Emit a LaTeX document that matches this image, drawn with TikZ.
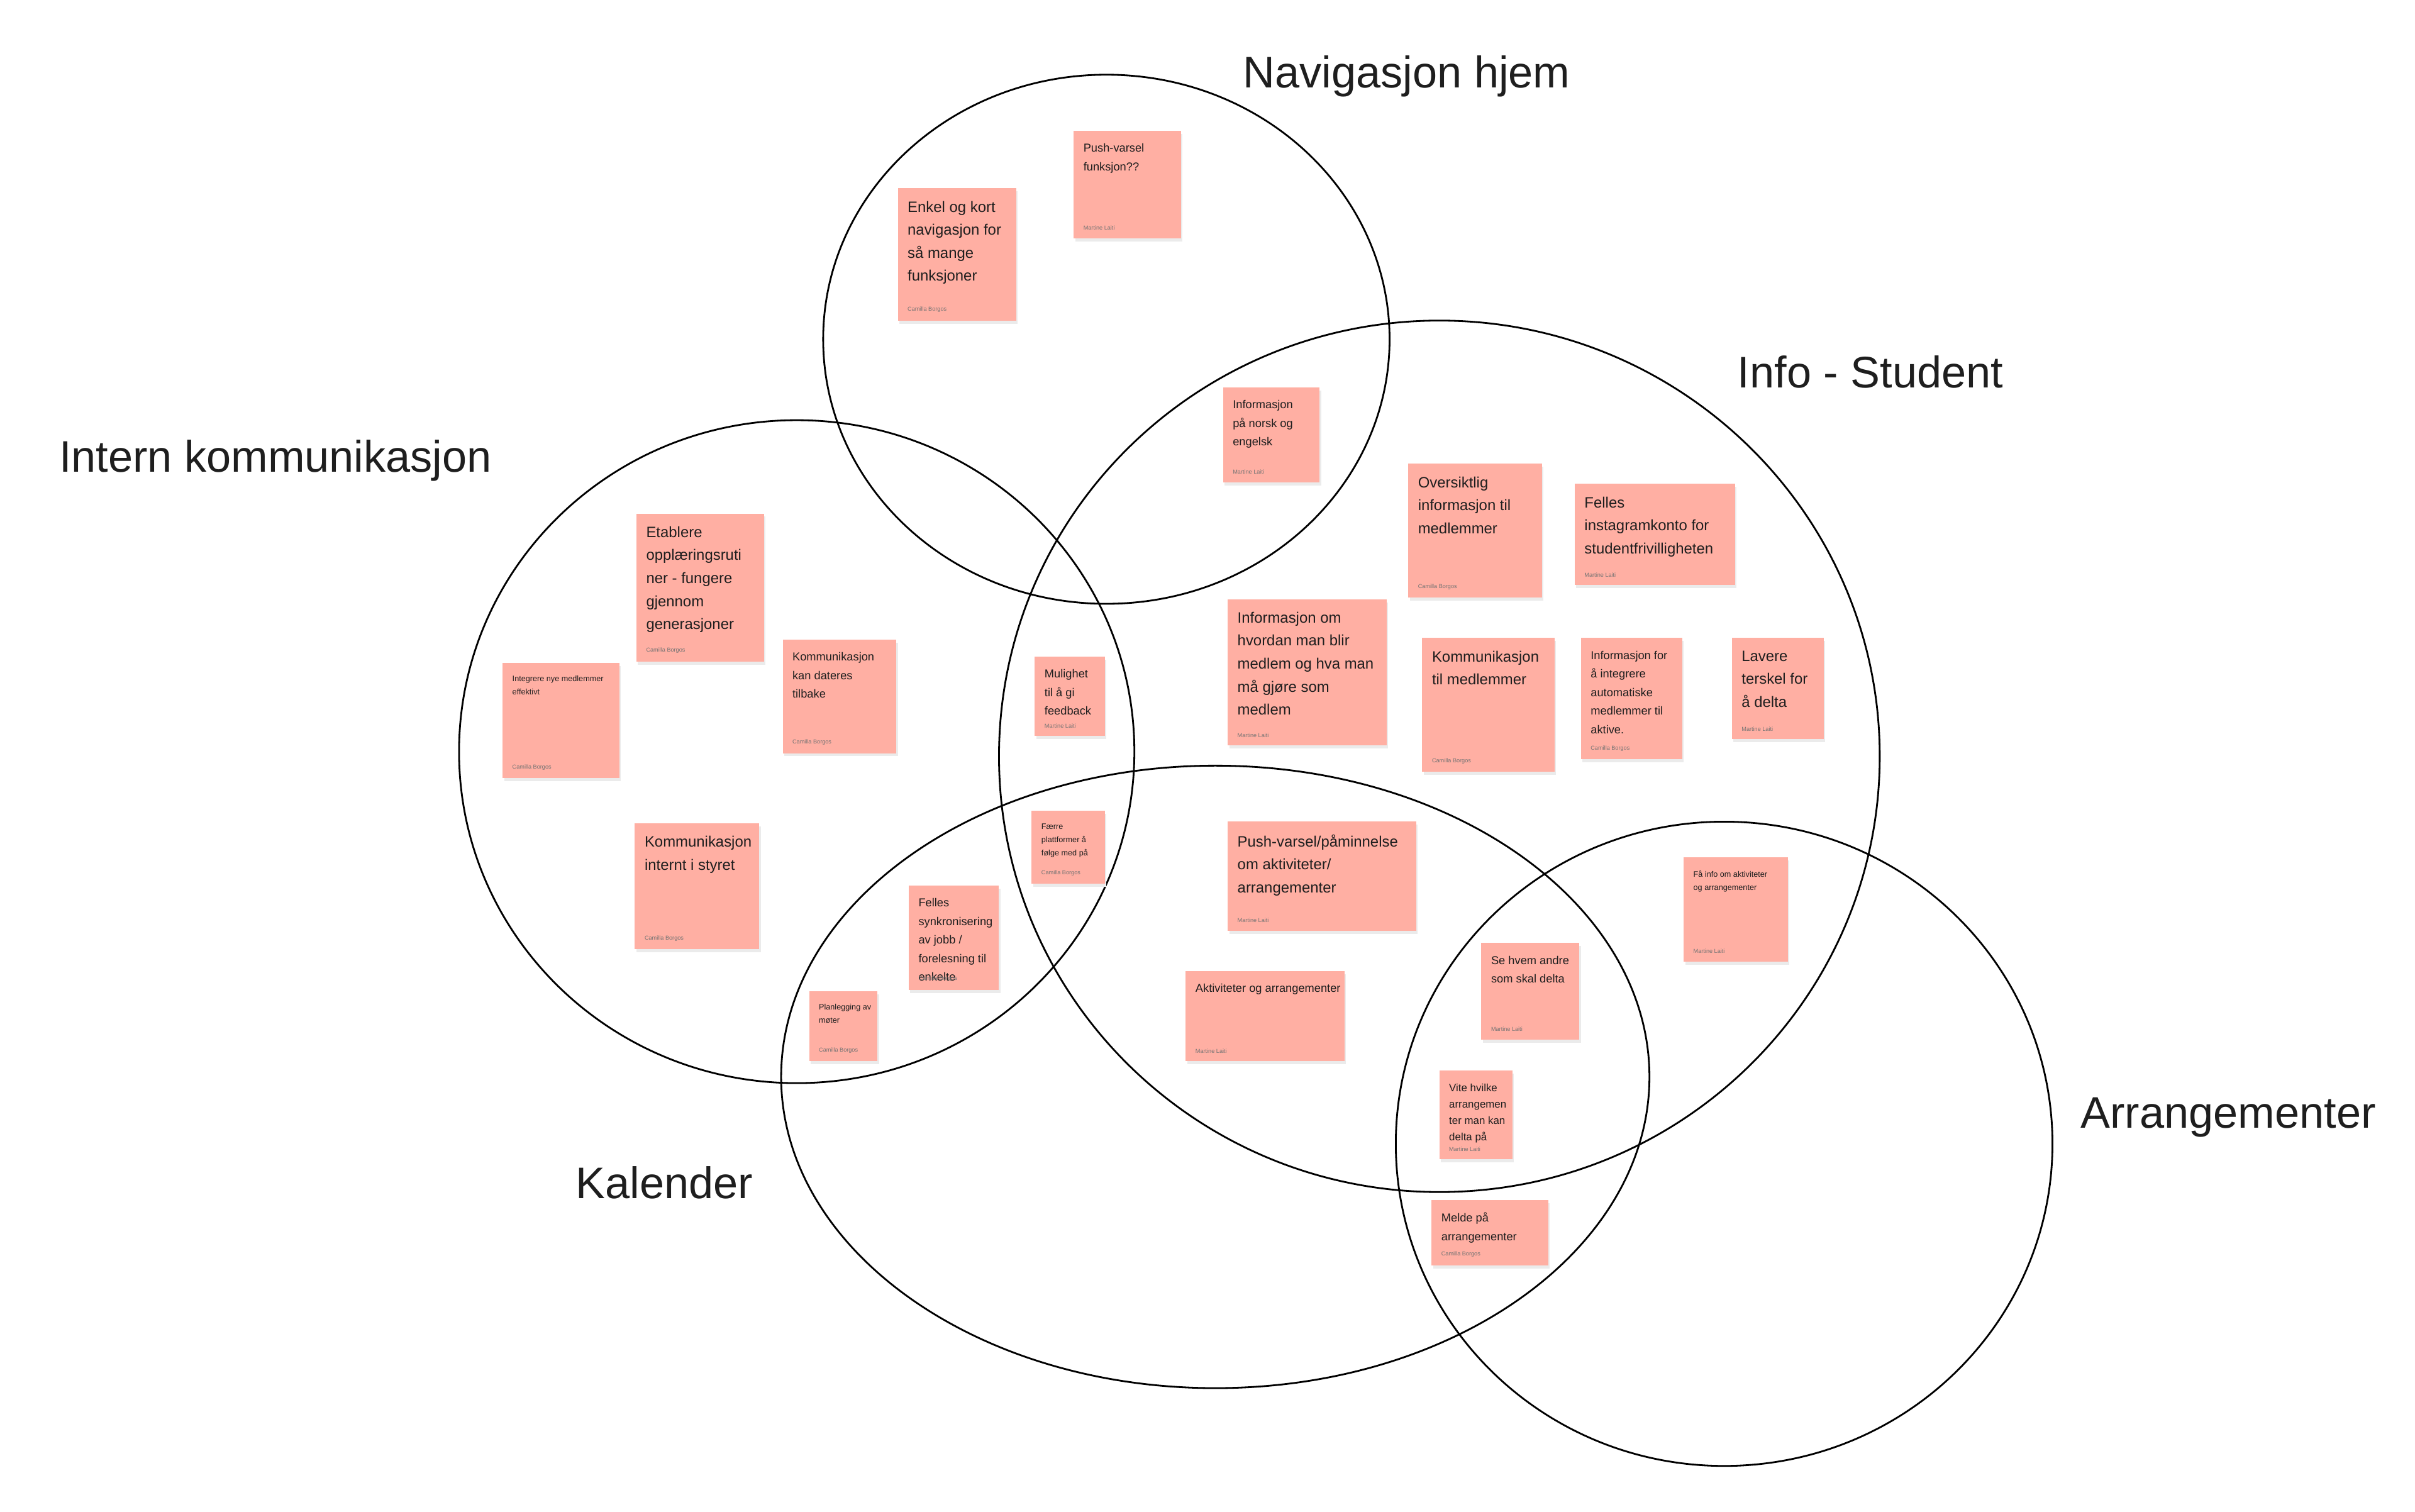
\documentclass[tikz,border=0pt]{standalone}
\usepackage{fontspec}
\setmainfont{Liberation Sans}
\usetikzlibrary{positioning}

\definecolor{notepink}{HTML}{FFAFA3}
\definecolor{inkgray}{HTML}{1E1E1E}

\tikzset{
  venn/.style={draw=black, line width=0.8pt},
  group/.style={font=\fontsize{20}{24}\selectfont, text=inkgray},
  notetext/.style={anchor=north west, align=left, inner sep=0pt, text=inkgray},
  noteauthor/.style={anchor=south west, inner sep=0pt, text=black!55, font=\fontsize{2.6}{3}\selectfont},
  big/.style={font=\fontsize{6.8}{10.4}\selectfont},
  mid/.style={font=\fontsize{5.2}{8.4}\selectfont},
  tight/.style={font=\fontsize{4.8}{7.4}\selectfont},
  small/.style={font=\fontsize{3.6}{6}\selectfont},
}

% name, x1, y1, x2, y2, size style, text, author
\newcommand{\sticky}[8]{%
  \fill[black!8] (#2+1,#3+2) rectangle (#4+1,#5+2);
  \fill[notepink] (#2,#3) rectangle (#4,#5);
  \node[notetext,#6] (#1) at (#2+6,#3+8) {#7};
  \node[noteauthor] (#1-by) at (#2+6,#5-5) {#8};
}

\begin{document}
\begin{tikzpicture}[x=0.02474cm, y=-0.02474cm]
\useasboundingbox (0,0) rectangle (1552,971.3);

% circles
\draw[venn] (711,218) ellipse [x radius=182, y radius=170];
\draw[venn] (925,486) ellipse [x radius=283, y radius=280];
\draw[venn] (512,483) ellipse [x radius=217, y radius=213];
\draw[venn] (781,692) ellipse [x radius=279, y radius=200];
\draw[venn] (1108,735) ellipse [x radius=211, y radius=207];

% group titles
\node[group] (nav) at (904,49) {Navigasjon hjem};
\node[group] (info) at (1202,239) {Info - Student};
\node[group] (intern) at (177,296) {Intern kommunikasjon};
\node[group] (kal) at (427,760) {Kalender};
\node[group] (arr) at (1432,718) {Arrangementer};

% notes
\sticky{enkel}{577}{121}{653}{206}{big}{Enkel og kort\\navigasjon for\\så mange\\funksjoner}{Camilla Borgos}
\sticky{push}{690}{84}{759}{153}{mid}{Push-varsel\\funksjon??}{Martine Laiti}
\sticky{norsk}{786}{249}{848}{310}{mid}{Informasjon\\på norsk og\\engelsk}{Martine Laiti}
\sticky{oversikt}{905}{298}{991}{384}{big}{Oversiktlig\\informasjon til\\medlemmer}{Camilla Borgos}
\sticky{insta}{1012}{311}{1115}{376}{big}{Felles\\instagramkonto for\\studentfrivilligheten}{Martine Laiti}
\sticky{medlem}{789}{385}{891}{479}{big}{Informasjon om\\hvordan man blir\\medlem og hva man\\må gjøre som\\medlem}{Martine Laiti}
\sticky{kommtil}{914}{410}{999}{496}{big}{Kommunikasjon\\til medlemmer}{Camilla Borgos}
\sticky{integr}{1016}{410}{1081}{488}{mid}{Informasjon for\\å integrere\\automatiske\\medlemmer til\\aktive.}{Camilla Borgos}
\sticky{terskel}{1113}{410}{1172}{475}{big}{Lavere\\terskel for\\å delta}{Martine Laiti}
\sticky{opplaer}{409}{330}{491}{425}{big}{Etablere\\opplæringsruti\\ner - fungere\\gjennom\\generasjoner}{Camilla Borgos}
\sticky{nye}{323}{426}{398}{500}{small}{Integrere nye medlemmer\\effektivt}{Camilla Borgos}
\sticky{dateres}{503}{411}{576}{484}{mid}{Kommunikasjon\\kan dateres\\tilbake}{Camilla Borgos}
\sticky{feedback}{665}{422}{710}{473}{mid}{Mulighet\\til å gi\\feedback}{Martine Laiti}
\sticky{styret}{408}{529}{488}{610}{big}{Kommunikasjon\\internt i styret}{Camilla Borgos}
\sticky{faerre}{663}{521}{710}{568}{small}{Færre\\plattformer å\\følge med på}{Camilla Borgos}
\sticky{synk}{584}{569}{642}{636}{mid}{Felles\\synkronisering\\av jobb /\\forelesning til\\enkelte}{Camilla Borgos}
\sticky{moter}{520}{637}{564}{682}{small}{Planlegging av\\møter}{Camilla Borgos}
\sticky{paaminn}{789}{528}{910}{598}{big}{Push-varsel/påminnelse\\om aktiviteter/\\arrangementer}{Martine Laiti}
\sticky{aktiv}{762}{624}{864}{682}{mid}{Aktiviteter og arrangementer}{Martine Laiti}
\sticky{fainfo}{1082}{551}{1149}{618}{small}{Få info om aktiviteter\\og arrangementer}{Martine Laiti}
\sticky{sehvem}{952}{606}{1015}{668}{mid}{Se hvem andre\\som skal delta}{Martine Laiti}
\sticky{vite}{925}{688}{972}{745}{tight}{Vite hvilke\\arrangemen\\ter man kan\\delta på}{Martine Laiti}
\sticky{melde}{920}{771}{995}{813}{mid}{Melde på\\arrangementer}{Camilla Borgos}
\end{tikzpicture}
\end{document}
